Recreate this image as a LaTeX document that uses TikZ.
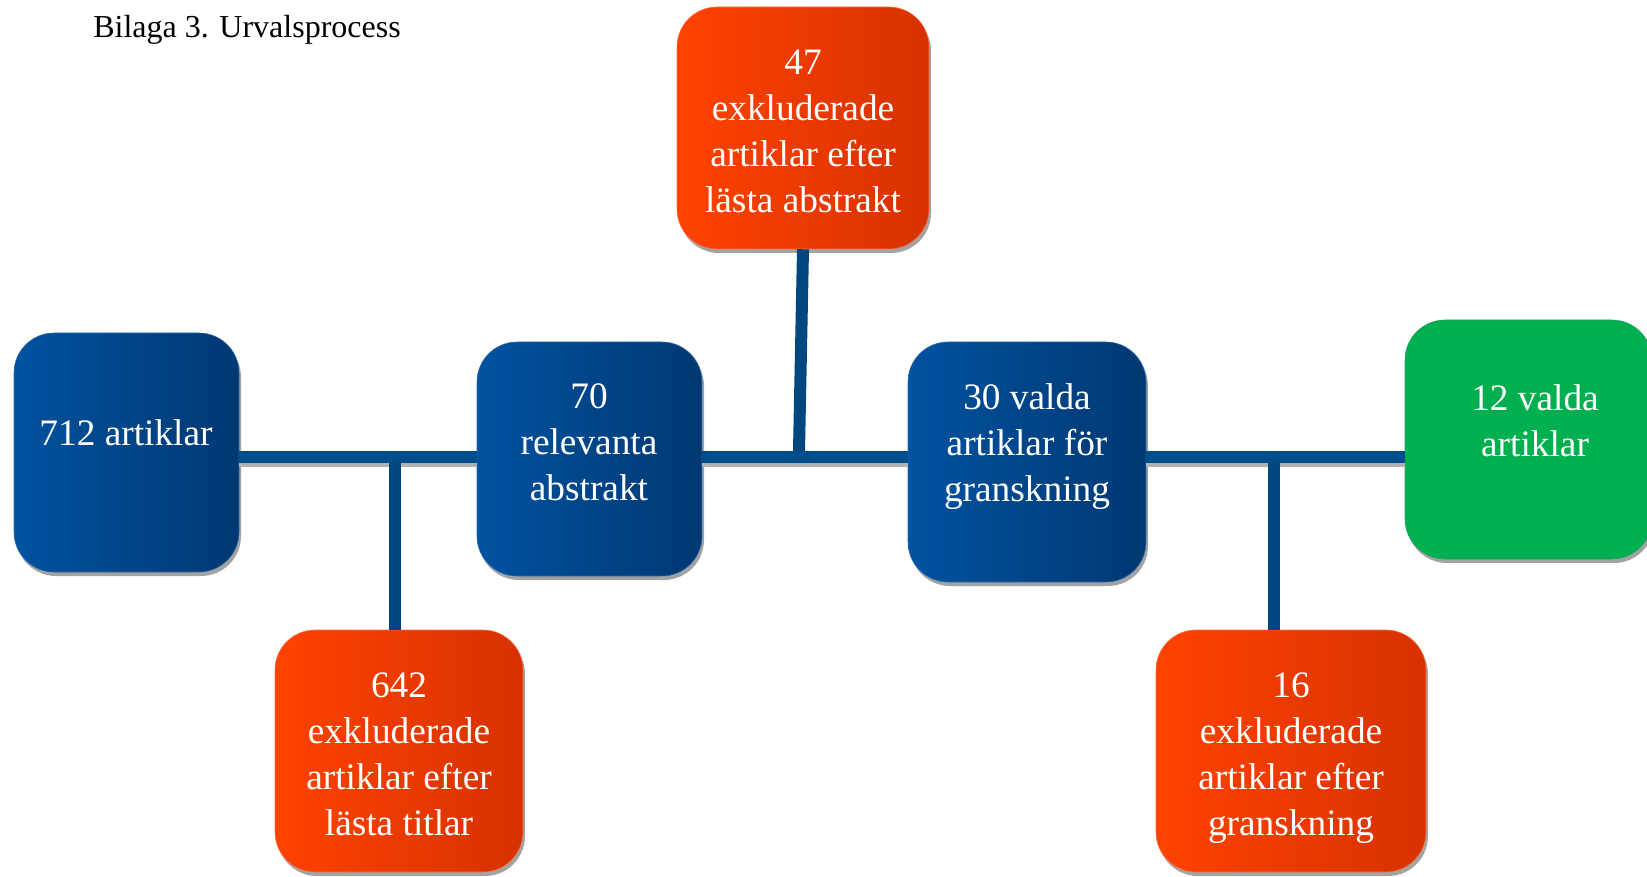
\documentclass[tikz,border=0pt]{standalone}
\usepackage{fontspec}
\setmainfont{Liberation Serif}
\usetikzlibrary{shadows}

\definecolor{boxblueL}{RGB}{0,82,160}
\definecolor{boxblueR}{RGB}{0,56,114}
\definecolor{boxredL}{RGB}{255,66,0}
\definecolor{boxredR}{RGB}{214,50,0}
\definecolor{boxgreen}{RGB}{0,176,80}
\definecolor{lineblue}{RGB}{0,77,140}
\definecolor{branchblue}{RGB}{0,71,128}

\begin{document}
\begin{tikzpicture}[
    x=0.75pt, y=-0.75pt,
    % Styles
    base_box/.style={rounded corners=30pt, inner sep=0pt, thin,
        drop shadow={shadow xshift=1.5pt, shadow yshift=-3pt, fill=black!45, opacity=0.8}},
    blue_box/.style={base_box, left color=boxblueL, right color=boxblueR, draw=boxblueL!85!white},
    red_box/.style={base_box, left color=boxredL, right color=boxredR, draw=boxredL!75!white},
    green_box/.style={base_box, fill=boxgreen, draw=boxgreen!60!gray},
    box_text/.style={text=white, align=center, inner sep=0pt, font=\fontsize{28}{34.5}\selectfont},
    spine_line/.style={line width=9pt, draw=lineblue},
    spine_shadow/.style={line width=9pt, draw=black!30},
    branch_line/.style={line width=9pt, draw=branchblue}
]
    \useasboundingbox (0,0) rectangle (1647,877);

    % ==========================================
    % 1. TITLE
    % ==========================================
    \node[anchor=base west, inner sep=0pt, font=\fontsize{24}{28}\selectfont] (title) at (93,38) {Bilaga 3. Urvalsprocess};

    % ==========================================
    % 2. BOXES
    % ==========================================
    % Main chain
    \node[blue_box, minimum width=168.75pt, minimum height=179.25pt] (b712) at (126.5,452.5) {};
    \node[blue_box, minimum width=168.75pt, minimum height=175.5pt] (b70) at (589.5,459) {};
    \node[blue_box, minimum width=178.5pt, minimum height=180pt] (b30) at (1027,462) {};
    \node[green_box, minimum width=185.25pt, minimum height=179.25pt] (b12) at (1528.5,439.5) {};

    % Excluded articles
    \node[red_box, minimum width=189pt, minimum height=181.5pt] (b47) at (803,128) {};
    \node[red_box, minimum width=186pt, minimum height=181.5pt] (b642) at (399,751) {};
    \node[red_box, minimum width=202.5pt, minimum height=181.5pt] (b16) at (1291,751) {};

    % ==========================================
    % 3. CONNECTORS
    % ==========================================
    \coordinate (spine) at (0,457);
    \coordinate (j642) at (395,457);
    \coordinate (j47) at (799,457);
    \coordinate (j16) at (1274,457);

    % Shadow of the main line
    \begin{scope}[transform canvas={yshift=-3pt}]
        \draw[spine_shadow] (b712.east |- spine) -- (b70.west |- spine);
        \draw[spine_shadow] (b70.east |- spine) -- (b30.west |- spine);
        \draw[spine_shadow] (b30.east |- spine) -- (b12.west |- spine);
    \end{scope}

    % Main line
    \draw[spine_line] (b712.east |- spine) -- (b70.west |- spine);
    \draw[spine_line] (b70.east |- spine) -- (b30.west |- spine);
    \draw[spine_line] (b30.east |- spine) -- (b12.west |- spine);

    % Branches to the excluded boxes
    \draw[branch_line] ([yshift=-4.5pt]j642) -- (j642 |- b642.north);
    \draw[branch_line] (b47.south) -- ([yshift=4.5pt]j47);
    \draw[branch_line] ([yshift=-4.5pt]j16) -- (j16 |- b16.north);

    % ==========================================
    % 4. BOX TEXTS
    % ==========================================
    \node[box_text] (t712) at (126,433) {712 artiklar};
    \node[box_text] (t70) at (589,442) {70\\relevanta\\abstrakt};
    \node[box_text] (t30) at (1027,446.5) {30 valda\\artiklar för\\granskning};
    \node[box_text] (t12) at (1535,421) {12 valda\\artiklar};
    \node[box_text] (t47) at (803,131) {47\\exkluderade\\artiklar efter\\lästa abstrakt};
    \node[box_text] (t642) at (399,754) {642\\exkluderade\\artiklar efter\\lästa titlar};
    \node[box_text] (t16) at (1291,758) {16\\exkluderade\\artiklar efter\\granskning};

\end{tikzpicture}
\end{document}
